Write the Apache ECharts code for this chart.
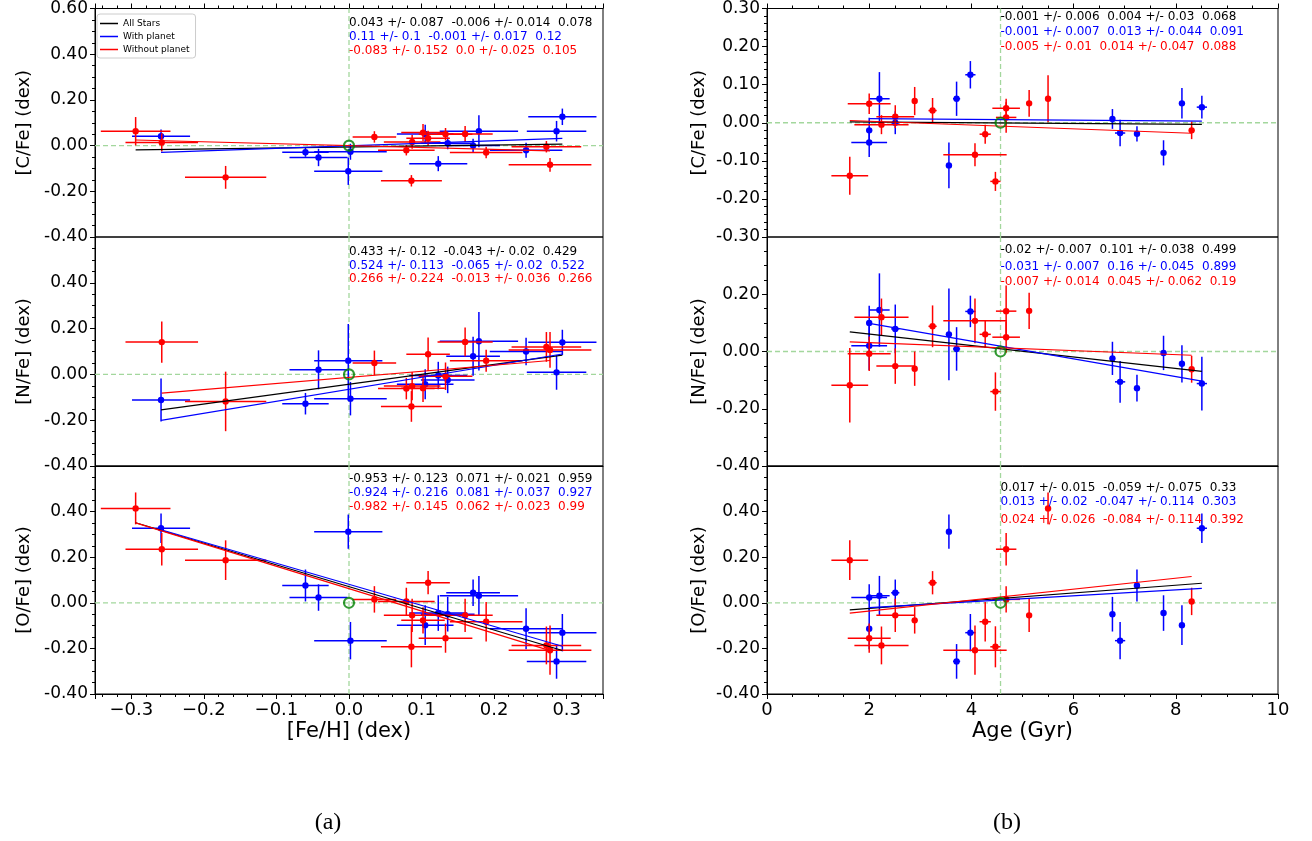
<!DOCTYPE html>
<html><head><meta charset="utf-8">
<script src="https://cdn.jsdelivr.net/npm/echarts@6/dist/echarts.min.js"></script>
<style>html,body{margin:0;padding:0;background:#fff}#c{width:1312px;height:841px}</style>
</head><body><div id="c"></div>
<script>
// ---- With planet (blue) ----
const planetFeH    = [-0.259,-0.060,-0.042,-0.001, 0.002, 0.105, 0.123, 0.136, 0.171, 0.179, 0.244, 0.286, 0.294];
const planetFeHErr = [ 0.040, 0.032, 0.040, 0.047, 0.050, 0.039, 0.040, 0.037, 0.037, 0.054, 0.050, 0.041, 0.047];
const planetAge    = [ 8.51, 7.24, 2.00, 3.56, 6.91, 8.12, 7.76, 6.76, 2.51, 2.20, 2.00, 3.71, 3.98];
const planetAgeErr = [ 0.10, 0.03, 0.35, 0.03, 0.10, 0.03, 0.05, 0.03, 0.08, 0.20, 0.05, 0.07, 0.10];
const planetC      = [ 0.041,-0.029,-0.052,-0.112,-0.027, 0.051,-0.079, 0.010, 0.000, 0.063,-0.020, 0.063, 0.126];
const planetCErr   = [ 0.030, 0.020, 0.038, 0.060, 0.035, 0.040, 0.033, 0.026, 0.030, 0.070, 0.033, 0.045, 0.036];
const planetN      = [-0.112,-0.128, 0.020, 0.060,-0.106,-0.043,-0.005,-0.024, 0.079, 0.145, 0.100, 0.009, 0.140];
const planetNErr   = [ 0.094, 0.047, 0.085, 0.160, 0.073, 0.065, 0.060, 0.058, 0.085, 0.128, 0.060, 0.076, 0.055];
const planetO      = [ 0.327, 0.076, 0.023, 0.312,-0.166,-0.098,-0.045,-0.050, 0.044, 0.031,-0.114,-0.257,-0.131];
const planetOErr   = [ 0.065, 0.070, 0.058, 0.075, 0.082, 0.087, 0.078, 0.076, 0.058, 0.087, 0.090, 0.076, 0.082];

// ---- Without planet (red) ----
const noPlanetFeH    = [-0.294,-0.258,-0.170, 0.035, 0.079, 0.086, 0.087, 0.102, 0.109, 0.133, 0.160, 0.189, 0.272, 0.277];
const noPlanetFeHErr = [ 0.048, 0.050, 0.056, 0.030, 0.039, 0.042, 0.039, 0.030, 0.030, 0.037, 0.038, 0.050, 0.048, 0.057];
const noPlanetAge    = [ 5.50, 4.68, 1.62, 4.68, 8.31, 4.47, 2.51, 2.89, 3.24, 2.00, 5.13, 4.27, 2.24, 4.07];
const noPlanetAgeErr = [ 0.03, 0.20, 0.36, 0.27, 0.03, 0.10, 0.37, 0.03, 0.08, 0.42, 0.03, 0.11, 0.53, 0.62];
const noPlanetC      = [ 0.063, 0.014,-0.139, 0.038,-0.020,-0.154, 0.016, 0.057, 0.032, 0.050, 0.051,-0.030,-0.005,-0.084];
const noPlanetCErr   = [ 0.062, 0.040, 0.050, 0.025, 0.023, 0.025, 0.030, 0.037, 0.033, 0.027, 0.035, 0.025, 0.025, 0.030];
const noPlanetN      = [ null,  0.141,-0.118, 0.050,-0.062,-0.140,-0.051,-0.060, 0.088,-0.008, 0.142, 0.060, 0.120, 0.107];
const noPlanetNErr   = [ null,  0.090, 0.130, 0.054, 0.047, 0.067, 0.062, 0.060, 0.073, 0.060, 0.063, 0.048, 0.065, 0.078];
const noPlanetO      = [ 0.414, 0.235, 0.187, 0.015, 0.006,-0.193,-0.055,-0.077, 0.088,-0.155,-0.055,-0.083,-0.187,-0.208];
const noPlanetOErr   = [ 0.070, 0.071, 0.087, 0.058, 0.060, 0.090, 0.073, 0.058, 0.051, 0.064, 0.073, 0.087, 0.083, 0.108];

// ---- Sun reference ----
const sunFeH = 0.0;
const sunAge = 4.57;
const sunAbund = 0.0;

// ---- Fit annotations (slope +/- err  intercept +/- err  r) : rows C, N, O ; lines all, planet, no planet ----
const fitTextFeH = [
  ['0.043 +/- 0.087  -0.006 +/- 0.014  0.078', '0.11 +/- 0.1  -0.001 +/- 0.017  0.12', '-0.083 +/- 0.152  0.0 +/- 0.025  0.105'],
  ['0.433 +/- 0.12  -0.043 +/- 0.02  0.429', '0.524 +/- 0.113  -0.065 +/- 0.02  0.522', '0.266 +/- 0.224  -0.013 +/- 0.036  0.266'],
  ['-0.953 +/- 0.123  0.071 +/- 0.021  0.959', '-0.924 +/- 0.216  0.081 +/- 0.037  0.927', '-0.982 +/- 0.145  0.062 +/- 0.023  0.99']
];
const fitTextAge = [
  ['-0.001 +/- 0.006  0.004 +/- 0.03  0.068', '-0.001 +/- 0.007  0.013 +/- 0.044  0.091', '-0.005 +/- 0.01  0.014 +/- 0.047  0.088'],
  ['-0.02 +/- 0.007  0.101 +/- 0.038  0.499', '-0.031 +/- 0.007  0.16 +/- 0.045  0.899', '-0.007 +/- 0.014  0.045 +/- 0.062  0.19'],
  ['0.017 +/- 0.015  -0.059 +/- 0.075  0.33', '0.013 +/- 0.02  -0.047 +/- 0.114  0.303', '0.024 +/- 0.026  -0.084 +/- 0.114  0.392']
];

const yNames = ['[C/Fe] (dex)', '[N/Fe] (dex)', '[O/Fe] (dex)'];
const xNames = ['[Fe/H] (dex)', 'Age (Gyr)'];
const legendNames = ['All Stars', 'With planet', 'Without planet'];
const captions = ['(a)', '(b)'];

// ---------------- layout / style ----------------
const FONT = 'DejaVu Sans';
const BLUE = '#0000ff', RED = '#ff0000', BLACK = '#000000', GREEN = '#008000', DASH = '#a3d79d';
const colLayout = [{left: 95, width: 508}, {left: 767, width: 511}];
const rowTop = [8, 237, 466], rowH = [229, 229, 228];
const xRange = [{min: -0.35, max: 0.35}, {min: 0, max: 10, interval: 2}];
const yRange = [
  [{min: -0.4, max: 0.6, interval: 0.2}, {min: -0.4, max: 0.6, interval: 0.2}, {min: -0.4, max: 0.6, interval: 0.2}],
  [{min: -0.3, max: 0.3, interval: 0.1}, {min: -0.4, max: 0.4, interval: 0.2}, {min: -0.4, max: 0.6, interval: 0.2}]
];
const annotY = [
  [[23, 37, 51], [251.5, 265.5, 279], [478.5, 492.5, 506.5]],
  [[17.3, 31.7, 46.5], [250, 267, 281.5], [488, 502, 520]]
];

const cols = [
  {px: planetFeH, pxe: planetFeHErr, nx: noPlanetFeH, nxe: noPlanetFeHErr, sun: sunFeH, fit: fitTextFeH},
  {px: planetAge, pxe: planetAgeErr, nx: noPlanetAge, nxe: noPlanetAgeErr, sun: sunAge, fit: fitTextAge}
];
const rows = [
  {p: planetC, pe: planetCErr, n: noPlanetC, ne: noPlanetCErr},
  {p: planetN, pe: planetNErr, n: noPlanetN, ne: noPlanetNErr},
  {p: planetO, pe: planetOErr, n: noPlanetO, ne: noPlanetOErr}
];

function fmtY(v) { if (Math.abs(v) < 1e-9) v = 0; return v.toFixed(2); }
function fmtX0(v) { if (Math.abs(v) < 1e-9) v = 0; return v.toFixed(1).replace('-', '\u2212'); }
function fmtX1(v) { return String(Math.round(v)); }

function ebSeries(color, xs, xe, ys, ye, gi) {
  const data = [];
  for (let i = 0; i < xs.length; i++) if (ys[i] !== null) data.push([xs[i], ys[i], xe[i], ye[i]]);
  return {
    type: 'custom', xAxisIndex: gi, yAxisIndex: gi, data: data, silent: true, z: 3,
    encode: {x: 0, y: 1},
    renderItem: function (params, api) {
      const x = api.value(0), y = api.value(1), dx = api.value(2), dy = api.value(3);
      const c = api.coord([x, y]), l = api.coord([x - dx, y]), r = api.coord([x + dx, y]);
      const t = api.coord([x, y + dy]), b = api.coord([x, y - dy]);
      const st = {stroke: color, lineWidth: 1.5};
      return {type: 'group', children: [
        {type: 'line', shape: {x1: l[0], y1: c[1], x2: r[0], y2: c[1]}, style: st},
        {type: 'line', shape: {x1: c[0], y1: t[1], x2: c[0], y2: b[1]}, style: st},
        {type: 'circle', shape: {cx: c[0], cy: c[1], r: 3.2}, style: {fill: color}}
      ]};
    }
  };
}

function fitSeries(name, color, xs, ys, text, gi) {
  const parts = text.trim().split(/\s+/);
  const slope = parseFloat(parts[0]), icpt = parseFloat(parts[3]);
  const xv = xs.filter((x, i) => ys[i] !== null);
  const x0 = Math.min.apply(null, xv), x1 = Math.max.apply(null, xv);
  return {
    type: 'line', name: name, xAxisIndex: gi, yAxisIndex: gi,
    data: [[x0, slope * x0 + icpt], [x1, slope * x1 + icpt]],
    symbol: 'none', showSymbol: false, silent: true, z: 4,
    lineStyle: {color: color, width: 1.2}, itemStyle: {color: color}
  };
}

const grid = [], xAxis = [], yAxis = [], series = [];
for (let c = 0; c < 2; c++) {
  for (let r = 0; r < 3; r++) {
    const gi = c * 3 + r;
    grid.push({left: colLayout[c].left, width: colLayout[c].width, top: rowTop[r], height: rowH[r],
      show: true, borderColor: '#000', borderWidth: 1, backgroundColor: 'transparent'});
    const xr = xRange[c];
    const xa = {
      type: 'value', gridIndex: gi, min: xr.min, max: xr.max,
      position: r === 0 ? 'top' : 'bottom',
      axisLine: {show: true, onZero: false, lineStyle: {color: '#000', width: 1}},
      axisTick: {show: r !== 1, length: 5, lineStyle: {color: '#000'}},
      minorTick: {show: r !== 1, splitNumber: c === 0 ? 5 : 4, length: 3, lineStyle: {color: '#000'}},
      splitLine: {show: false},
      axisLabel: {show: r === 2, color: '#000', fontFamily: FONT, fontSize: 18, margin: 7,
        showMinLabel: c === 1, showMaxLabel: c === 1, formatter: c === 0 ? fmtX0 : fmtX1}
    };
    if (xr.interval) xa.interval = xr.interval; else xa.splitNumber = 7;
    if (r === 2) {
      xa.name = xNames[c]; xa.nameLocation = 'middle'; xa.nameGap = 27;
      xa.nameTextStyle = {fontFamily: FONT, fontSize: 21, color: '#000'};
    }
    xAxis.push(xa);
    const yr = yRange[c][r];
    yAxis.push({
      type: 'value', gridIndex: gi, min: yr.min, max: yr.max, interval: yr.interval,
      axisLine: {show: true, onZero: false, lineStyle: {color: '#000', width: 1}},
      axisTick: {show: true, length: 5, lineStyle: {color: '#000'}},
      minorTick: {show: true, splitNumber: yr.interval === 0.1 ? 5 : 4, length: 3, lineStyle: {color: '#000'}},
      splitLine: {show: false},
      axisLabel: {color: '#000', fontFamily: FONT, fontSize: 17, margin: 7, formatter: fmtY,
        showMaxLabel: r === 0, showMinLabel: true},
      name: yNames[r], nameLocation: 'middle', nameGap: c === 0 ? 62 : 59,
      nameTextStyle: {fontFamily: FONT, fontSize: 18, color: '#000'}
    });

    const C = cols[c], R = rows[r];
    // dashed reference lines
    series.push({type: 'line', xAxisIndex: gi, yAxisIndex: gi, silent: true, symbol: 'none', z: 1,
      data: [[C.sun, yr.min], [C.sun, yr.max]], lineStyle: {color: DASH, width: 1.3, type: [5, 3]}});
    series.push({type: 'line', xAxisIndex: gi, yAxisIndex: gi, silent: true, symbol: 'none', z: 1,
      data: [[xr.min, sunAbund], [xr.max, sunAbund]], lineStyle: {color: DASH, width: 1.3, type: [5, 3]}});
    // error bars
    series.push(ebSeries(BLUE, C.px, C.pxe, R.p, R.pe, gi));
    series.push(ebSeries(RED, C.nx, C.nxe, R.n, R.ne, gi));
    // fit lines
    series.push(fitSeries(legendNames[0], BLACK, C.px.concat(C.nx), R.p.concat(R.n), C.fit[r][0], gi));
    series.push(fitSeries(legendNames[1], BLUE, C.px, R.p, C.fit[r][1], gi));
    series.push(fitSeries(legendNames[2], RED, C.nx, R.n, C.fit[r][2], gi));
    // Sun
    series.push({type: 'scatter', xAxisIndex: gi, yAxisIndex: gi, silent: true, z: 5,
      data: [[C.sun, sunAbund]], symbol: 'circle', symbolSize: 10,
      itemStyle: {color: 'rgba(0,0,0,0)', borderColor: GREEN, borderWidth: 2.2}});
  }
}

const chart = echarts.init(document.getElementById('c'), null, {renderer: 'canvas'});
chart.setOption({
  animation: false,
  backgroundColor: '#ffffff',
  textStyle: {fontFamily: FONT},
  grid: grid, xAxis: xAxis, yAxis: yAxis, series: series,
  legend: {
    data: legendNames, left: 97, top: 14, orient: 'vertical',
    icon: 'rect', itemWidth: 18, itemHeight: 1.5, itemGap: 2,
    padding: [4, 6, 3, 3],
    backgroundColor: 'rgba(255,255,255,0.85)', borderColor: '#cccccc', borderWidth: 1, borderRadius: 3,
    textStyle: {fontFamily: FONT, fontSize: 9, lineHeight: 11, color: '#000'},
    selectedMode: false
  }
});

// annotations anchored at the Sun's x position
const graphic = [];
const colors = [BLACK, BLUE, RED];
for (let c = 0; c < 2; c++) {
  for (let r = 0; r < 3; r++) {
    const gi = c * 3 + r;
    const px = chart.convertToPixel({gridIndex: gi}, [cols[c].sun, 0])[0];
    for (let k = 0; k < 3; k++) {
      graphic.push({type: 'text', x: px, y: annotY[c][r][k], z: 10, silent: true,
        style: {text: cols[c].fit[r][k], fill: colors[k], fontFamily: FONT, fontSize: 12,
          align: 'left', verticalAlign: 'middle'}});
    }
  }
}
const capX = [328, 1007];
for (let c = 0; c < 2; c++) {
  graphic.push({type: 'text', x: capX[c], y: 823, silent: true,
    style: {text: captions[c], fill: '#000', fontFamily: 'Liberation Serif', fontSize: 24,
      align: 'center', verticalAlign: 'middle'}});
}
chart.setOption({graphic: graphic});
</script>
</body></html>
